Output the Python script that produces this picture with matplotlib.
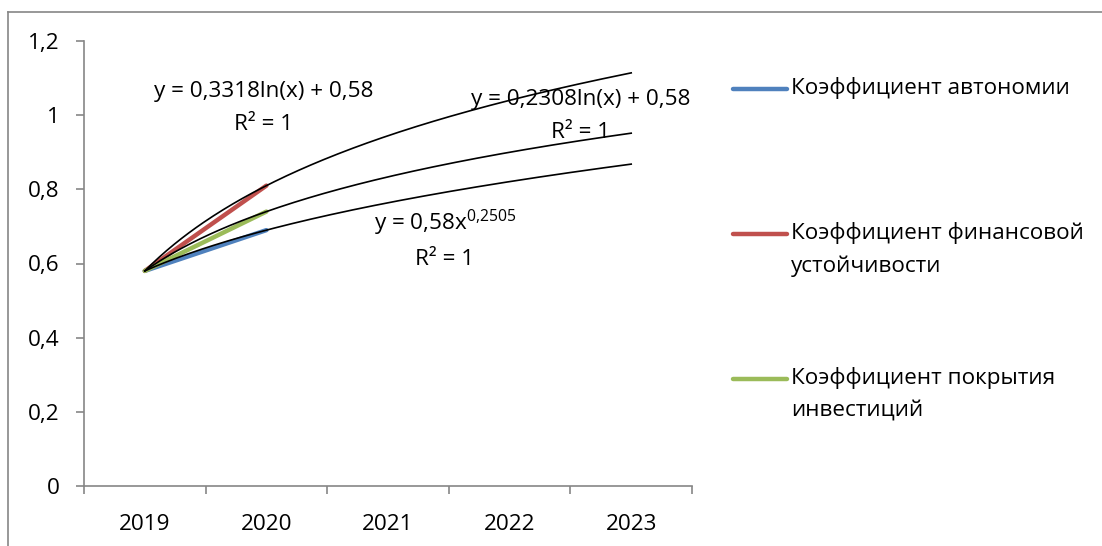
import numpy as np
import matplotlib
matplotlib.use('Agg')
import matplotlib.pyplot as plt
from matplotlib.lines import Line2D

plt.rcParams['font.family'] = ['Open Sans', 'DejaVu Sans']
plt.rcParams['mathtext.fontset'] = 'custom'
plt.rcParams['mathtext.rm'] = 'Open Sans'

# categories and series values
years = ['2019', '2020', '2021', '2022', '2023']
autonomy = [0.58, 0.69]
fin_stability = [0.58, 0.81]
invest_cover = [0.58, 0.74]

series_names = ['Коэффициент автономии',
                'Коэффициент финансовой\nустойчивости',
                'Коэффициент покрытия\nинвестиций']
series_colors = ['#4F81BD', '#C0504D', '#9BBB59']

# trendline coefficients (as shown in the chart labels)
log_fin = (0.3318, 0.58)
log_inv = (0.2308, 0.58)
pow_aut = (0.58, 0.2505)

trend_labels = ['y = 0,3318ln(x) + 0,58\nR² = 1',
                'y = 0,2308ln(x) + 0,58\nR² = 1',
                r'y = 0,58x$^{\mathregular{0{,}2505}}$' + '\nR² = 1']

fs = 16.2
fig = plt.figure(figsize=(11.02, 5.46), dpi=100)
ax = fig.add_axes([84 / 1102, 1 - 486 / 546, (692 - 84) / 1102, (486 - 41) / 546])

for vals, col in zip([autonomy, fin_stability, invest_cover], series_colors):
    ax.plot(range(len(vals)), vals, color=col, lw=3.2, solid_capstyle='round', zorder=2)

# trendlines, x = 1..5 in Excel category numbering
xt = np.linspace(1, 5, 200)
ax.plot(xt - 1, log_fin[0] * np.log(xt) + log_fin[1], color='black', lw=1.2, zorder=3)
ax.plot(xt - 1, log_inv[0] * np.log(xt) + log_inv[1], color='black', lw=1.2, zorder=3)
ax.plot(xt - 1, pow_aut[0] * xt ** pow_aut[1], color='black', lw=1.2, zorder=3)

ax.set_xlim(-0.5, 4.5)
ax.set_ylim(0, 1.2)
ax.set_yticks(np.arange(0, 1.21, 0.2))
ax.set_yticklabels(['0', '0,2', '0,4', '0,6', '0,8', '1', '1,2'], fontsize=fs)
ax.set_xticks(range(len(years)))
ax.set_xticklabels(years, fontsize=fs)
ax.set_xticks(np.arange(-0.5, 4.6, 1), minor=True)
ax.tick_params(axis='x', which='major', length=0, pad=20)
ax.tick_params(axis='x', which='minor', length=5.5, color='#868686', width=1.2)
ax.tick_params(axis='y', length=5.5, color='#868686', width=1.2, pad=12)
for s in ['top', 'right']:
    ax.spines[s].set_visible(False)
for s in ['left', 'bottom']:
    ax.spines[s].set_color('#868686')
    ax.spines[s].set_linewidth(1.2)

# trendline equation labels (pixel positions from the reference)
for lab, (px, py) in zip(trend_labels, [(264, 108), (581, 116), (445, 239)]):
    fig.text(px / 1102, 1 - py / 546, lab, ha='center', va='center',
             fontsize=fs, linespacing=1.7, multialignment='center')

# legend drawn by hand, handle aligned with first text line
for name, col, ly in zip(series_names, series_colors, [89, 234, 379]):
    fig.add_artist(Line2D([733 / 1102, 787 / 1102], [1 - ly / 546] * 2,
                          color=col, lw=3.2, solid_capstyle='round'))
    fig.text(791 / 1102, 1 - (ly - 12) / 546, name, ha='left', va='top',
             fontsize=fs, linespacing=1.68)

# chart area border (top and left visible)
fig.add_artist(Line2D([8 / 1102, 1], [1 - 12 / 546] * 2, color='#868686', lw=1.2))
fig.add_artist(Line2D([8 / 1102] * 2, [0, 1 - 12 / 546], color='#868686', lw=1.2))

fig.savefig('out.png', dpi=100)
